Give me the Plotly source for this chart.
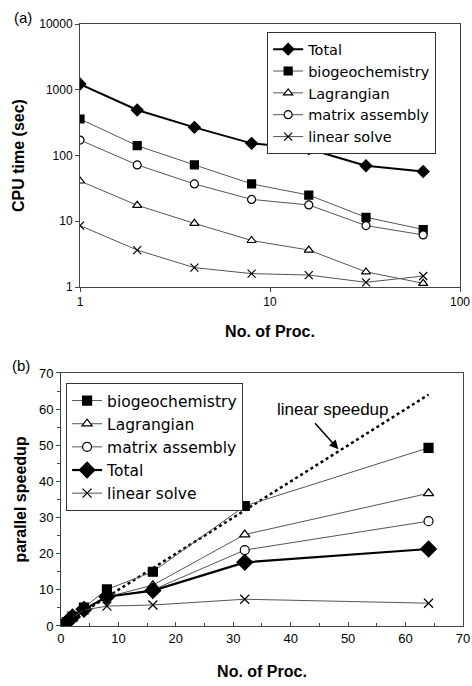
import plotly.graph_objects as go

procs = [1, 2, 4, 8, 16, 32, 64]

# (a) CPU time (sec)
cpu_total = [1222, 492, 268, 153, 126, 70, 57]
cpu_bio = [359, 141, 72, 37, 25, 11.5, 7.5]
cpu_lag = [41, 17.5, 9.3, 5.1, 3.65, 1.7, 1.14]
cpu_mat = [172, 72, 37, 21.5, 17.7, 8.6, 6.2]
cpu_lin = [8.6, 3.65, 1.97, 1.6, 1.52, 1.18, 1.47]

# (b) parallel speedup
sp_bio = [1, 2.6, 5.1, 10.1, 15.0, 33.2, 49.3]
sp_lag = [1, 2.3, 4.4, 8.0, 11.3, 25.3, 36.7]
sp_mat = [1, 2.4, 4.6, 8.0, 10.0, 21.0, 29.0]
sp_total = [1, 2.5, 4.6, 8.1, 9.8, 17.6, 21.3]
sp_lin = [1, 2.4, 4.4, 5.5, 5.8, 7.4, 6.3]
linear_x = [1, 64]
linear_y = [1, 64]

FONT = "Liberation Sans, Arial, sans-serif"
LFONT = "DejaVu Sans, Liberation Sans, sans-serif"
GRAY = "#555555"

fig = go.Figure()

def add(x, y, name, symbol, fill, width, color, size, xa, ya, legend):
    fig.add_trace(go.Scatter(
        x=x, y=y, name=name, mode="lines+markers", xaxis=xa, yaxis=ya, legend=legend,
        line=dict(color=color, width=width),
        marker=dict(symbol=symbol, size=size, color=fill, line=dict(color="black", width=1.2)),
    ))

# top
add(procs, cpu_total, "Total", "diamond", "black", 2, "black", 9, "x", "y", "legend")
add(procs, cpu_bio, "biogeochemistry", "square", "black", 1, GRAY, 8, "x", "y", "legend")
add(procs, cpu_lag, "Lagrangian", "triangle-up", "white", 1, GRAY, 8, "x", "y", "legend")
add(procs, cpu_mat, "matrix assembly", "circle", "white", 1, GRAY, 8, "x", "y", "legend")
add(procs, cpu_lin, "linear solve", "x-thin", "black", 1, GRAY, 8, "x", "y", "legend")

# bottom
fig.add_trace(go.Scatter(x=linear_x, y=linear_y, mode="lines", showlegend=False,
                         xaxis="x2", yaxis="y2", line=dict(color="black", width=2.5, dash="dot")))
add(procs, sp_bio, "biogeochemistry", "square", "black", 1, GRAY, 9, "x2", "y2", "legend2")
add(procs, sp_lag, "Lagrangian", "triangle-up", "white", 1, GRAY, 9, "x2", "y2", "legend2")
add(procs, sp_mat, "matrix assembly", "circle", "white", 1, GRAY, 9, "x2", "y2", "legend2")
add(procs, sp_total, "Total", "diamond", "black", 2.2, "black", 12, "x2", "y2", "legend2")
add(procs, sp_lin, "linear solve", "x-thin", "black", 1, GRAY, 9, "x2", "y2", "legend2")

axis_common = dict(showline=True, linecolor="#444", linewidth=1, mirror=True, showgrid=False,
                   zeroline=False, automargin=False,
                   tickfont=dict(family=FONT, size=12, color="black"),
                   ticks="outside", ticklen=4, tickcolor="#444")
title_font = dict(family=FONT, size=16, color="black", weight="bold")

fig.update_layout(
    width=472, height=686, margin=dict(l=0, r=0, t=0, b=0, autoexpand=False),
    paper_bgcolor="white", plot_bgcolor="white",
    font=dict(family=FONT, color="black"),
    xaxis=dict(axis_common, type="log", range=[0, 2], domain=[0.1695, 0.9746], anchor="y",
               tickvals=[1, 10, 100], ticktext=["1", "10", "100"],
               title=dict(text="No. of Proc.", font=title_font, standoff=17)),
    yaxis=dict(axis_common, type="log", range=[0, 4], domain=[0.5816, 0.965], anchor="x",
               tickvals=[1, 10, 100, 1000, 10000], ticktext=["1", "10", "100", "1000", "10000"],
               title=dict(text="CPU time (sec)", font=title_font, standoff=10)),
    xaxis2=dict(axis_common, range=[0, 70], dtick=10, domain=[0.1292, 0.9809], anchor="y2",
                ticks="inside", minor=dict(dtick=5, ticks="inside", ticklen=3, tickcolor="#444"),
                tickfont=dict(family=FONT, size=13, color="black"),
                title=dict(text="No. of Proc.", font=title_font, standoff=21)),
    yaxis2=dict(axis_common, range=[0, 70], dtick=10, domain=[0.0875, 0.4563], anchor="x2",
                minor=dict(dtick=5, ticks="outside", ticklen=3, tickcolor="#444"),
                tickfont=dict(family=FONT, size=13, color="black"),
                title=dict(text="parallel speedup", font=title_font, standoff=8)),
    legend=dict(x=0.566, y=0.953, xanchor="left", yanchor="top", bgcolor="white",
                bordercolor="#333", borderwidth=1, font=dict(family=LFONT, size=14.5),
                traceorder="normal", tracegroupgap=0),
    legend2=dict(x=0.14, y=0.4417, xanchor="left", yanchor="top", bgcolor="white",
                 bordercolor="#333", borderwidth=1, font=dict(family=LFONT, size=15.5),
                 traceorder="normal", tracegroupgap=0),
)

fig.add_annotation(text="(a)", xref="paper", yref="paper", x=0.025, y=0.99, xanchor="left",
                   yanchor="top", showarrow=False, font=dict(family=FONT, size=15))
fig.add_annotation(text="(b)", xref="paper", yref="paper", x=0.021, y=0.482, xanchor="left",
                   yanchor="top", showarrow=False, font=dict(family=FONT, size=15))
fig.add_annotation(text="linear speedup", xref="x2", yref="y2", x=47.3, y=60, showarrow=False,
                   font=dict(family=FONT, size=17))
fig.add_annotation(text="", xref="x2", yref="y2", x=48.3, y=48.9, axref="x2", ayref="y2",
                   ax=44, ay=56.5, showarrow=True, arrowhead=2, arrowsize=1.2, arrowwidth=1.5,
                   arrowcolor="black")

fig.write_html("out.html", config={"displayModeBar": False},
               post_script="document.body.style.margin='0';document.body.style.overflow='hidden';")
